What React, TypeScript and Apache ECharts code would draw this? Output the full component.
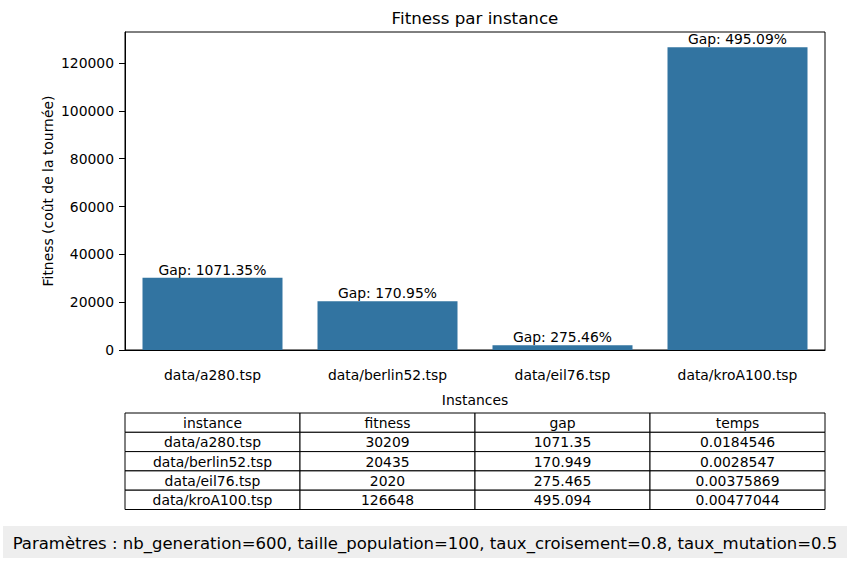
import React, { useEffect, useRef } from "react";
import * as echarts from "echarts";

const instances = ["data/a280.tsp", "data/berlin52.tsp", "data/eil76.tsp", "data/kroA100.tsp"];
const fitness = [30209, 20435, 2020, 126648];
const gapLabels = ["1071.35", "170.95", "275.46", "495.09"];
const yTicks = [0, 20000, 40000, 60000, 80000, 100000, 120000];
const yMax = 132980;
const tableHeader = ["instance", "fitness", "gap", "temps"];
const fitnessCells = ["30209", "20435", "2020", "126648"];
const gapCells = ["1071.35", "170.949", "275.465", "495.094"];
const tempsCells = ["0.0184546", "0.0028547", "0.00375869", "0.00477044"];
const titleText = "Fitness par instance";
const yName = "Fitness (coût de la tournée)";
const xName = "Instances";
const paramText = "Paramètres : nb_generation=600, taille_population=100, taux_croisement=0.8, taux_mutation=0.5";

const FONT = "DejaVu Sans";
const FS = 13.9;
const W = 849;
const H = 562;
const GL = 125, GR = 825, GT = 32, GB = 350;

export default function App() {
  const ref = useRef<HTMLDivElement>(null);
  useEffect(() => {
    document.body.style.margin = "0";
    if (!ref.current) return;
    const chart = echarts.init(ref.current, null, { renderer: "svg" });

    const rows = [tableHeader];
    for (let i = 0; i < instances.length; i++) {
      rows.push([instances[i], fitnessCells[i], gapCells[i], tempsCells[i]]);
    }
    const tTop = 413, rowH = 19.3, colW = (GR - GL) / 4;
    const tableEls: any[] = [];
    rows.forEach((row, r) => {
      row.forEach((cell, c) => {
        tableEls.push({
          type: "rect",
          shape: { x: GL + c * colW, y: tTop + r * rowH, width: colW, height: rowH },
          style: { fill: "#fff", stroke: "#000", lineWidth: 1 },
          silent: true,
        });
        tableEls.push({
          type: "text",
          x: GL + c * colW + colW / 2,
          y: tTop + r * rowH + rowH / 2 + 0.5,
          style: {
            text: cell,
            fill: "#000",
            font: `${FS}px "${FONT}"`,
            textAlign: "center",
            textVerticalAlign: "middle",
          },
          silent: true,
        });
      });
    });

    chart.setOption({
      animation: false,
      grid: {
        left: GL,
        right: W - GR,
        top: GT,
        bottom: H - GB,
        show: true,
        borderColor: "#000",
        borderWidth: 1,
        backgroundColor: "transparent",
      },
      xAxis: {
        type: "category",
        data: instances,
        name: xName,
        nameLocation: "middle",
        nameGap: 43,
        nameMoveOverlap: false,
        nameTextStyle: { color: "#000", fontFamily: FONT, fontSize: FS },
        axisLine: { lineStyle: { color: "#000", width: 1 } },
        axisTick: { alignWithLabel: true, length: 5, lineStyle: { color: "#000" } },
        axisLabel: { color: "#000", fontFamily: FONT, fontSize: FS, margin: 18, interval: 0 },
        splitLine: { show: false },
      },
      yAxis: {
        type: "value",
        min: 0,
        max: yMax,
        interval: 20000,
        name: yName,
        nameLocation: "middle",
        nameGap: 70,
        nameMoveOverlap: false,
        nameTextStyle: { color: "#000", fontFamily: FONT, fontSize: FS },
        axisLine: { show: true, lineStyle: { color: "#000", width: 1 } },
        axisTick: { show: true, length: 6, lineStyle: { color: "#000" }, customValues: yTicks },
        axisLabel: {
          color: "#000",
          fontFamily: FONT,
          fontSize: FS,
          margin: 11,
          customValues: yTicks,
          formatter: (v: number) => String(v),
        },
        splitLine: { show: false },
      },
      series: [
        {
          type: "bar",
          data: fitness,
          barCategoryGap: "20%",
          itemStyle: { color: "#3274a1" },
          label: {
            show: true,
            position: "top",
            distance: 1,
            color: "#000",
            fontFamily: FONT,
            fontSize: FS,
            formatter: (p: any) => `Gap: ${gapLabels[p.dataIndex]}%`,
          },
        },
      ],
      graphic: [
        {
          type: "text",
          x: (GL + GR) / 2,
          y: 18,
          style: {
            text: titleText,
            fill: "#000",
            font: `16.7px "${FONT}"`,
            textAlign: "center",
            textVerticalAlign: "middle",
          },
        },
        ...tableEls,
        {
          type: "rect",
          shape: { x: 3, y: 526, width: 844, height: 32 },
          style: { fill: "#eeeeee" },
        },
        {
          type: "text",
          x: 425,
          y: 543,
          style: {
            text: paramText,
            fill: "#000",
            font: `16.5px "${FONT}"`,
            textAlign: "center",
            textVerticalAlign: "middle",
          },
        },
      ],
    });
    return () => chart.dispose();
  }, []);
  return <div ref={ref} style={{ width: W, height: H }} />;
}
